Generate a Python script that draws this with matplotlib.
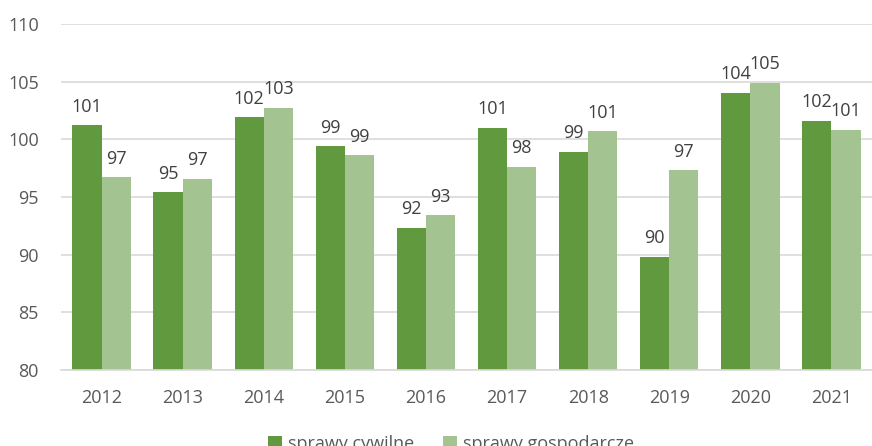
import matplotlib.pyplot as plt
import numpy as np

plt.rcParams['font.family'] = ['Open Sans', 'DejaVu Sans']

years = ["2012", "2013", "2014", "2015", "2016", "2017", "2018", "2019", "2020", "2021"]
cywilne = [101.2, 95.4, 101.9, 99.4, 92.3, 101.0, 98.9, 89.8, 104.0, 101.6]
gospodarcze = [96.7, 96.6, 102.7, 98.6, 93.4, 97.6, 100.7, 97.3, 104.9, 100.8]
series_names = ["sprawy cywilne", "sprawy gospodarcze"]

dark_green = "#619A3E"
light_green = "#A3C490"
label_col = "#404040"
tick_col = "#595959"
grid_col = "#D9D9D9"

fig = plt.figure(figsize=(8.72, 4.46), dpi=100)
ax = fig.add_axes([61 / 872, 1 - 370 / 446, 811 / 872, 346 / 446])

ind = np.arange(len(years))
width = 0.36
b1 = ax.bar(ind - width / 2, cywilne, width, color=dark_green, label=series_names[0], zorder=2)
b2 = ax.bar(ind + width / 2, gospodarcze, width, color=light_green, label=series_names[1], zorder=2)

for bars in (b1, b2):
    ax.bar_label(bars, labels=["%.0f" % b.get_height() for b in bars], padding=7,
                 fontsize=13, color=label_col)

ax.set_ylim(80, 110)
ax.set_xlim(-0.5, len(years) - 0.5)
ax.set_yticks(np.arange(80, 111, 5))
ax.set_xticks(ind)
ax.set_xticklabels(years)
ax.tick_params(axis='both', length=0, labelsize=13, labelcolor=tick_col)
ax.tick_params(axis='y', pad=16)
ax.tick_params(axis='x', pad=14)

ax.grid(axis='y', color=grid_col, linewidth=1.2, zorder=0)
for side in ['top', 'right', 'left']:
    ax.spines[side].set_visible(False)
ax.spines['bottom'].set_color(grid_col)
ax.spines['bottom'].set_linewidth(1.2)

fig.legend(loc='center', bbox_to_anchor=(0.517, 0.004), ncol=2, frameon=False,
           fontsize=13, labelcolor=tick_col, handlelength=0.8, handleheight=0.8,
           handletextpad=0.3, columnspacing=1.6)

fig.savefig("out.png", dpi=100)
